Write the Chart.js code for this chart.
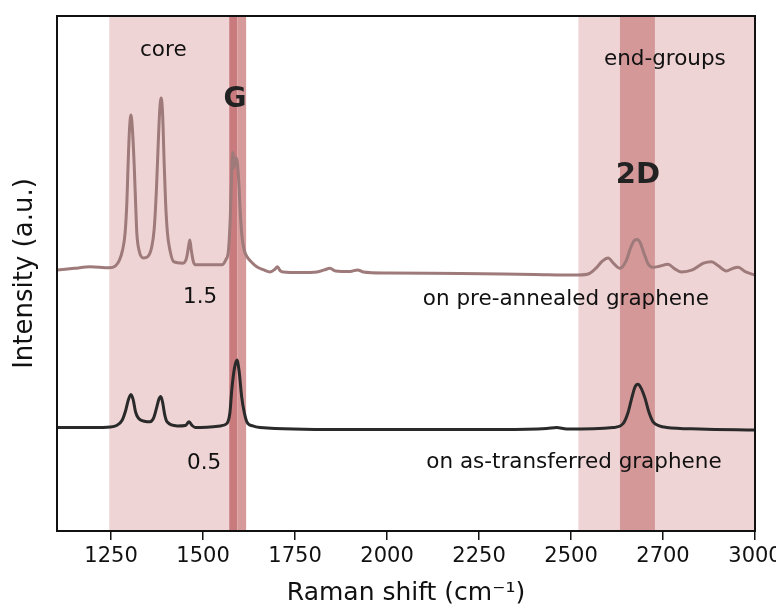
<!DOCTYPE html>
<html>
<head>
<meta charset="utf-8">
<script src="https://cdn.jsdelivr.net/npm/chart.js@4/dist/chart.umd.min.js"></script>
<style>
  html, body { margin: 0; padding: 0; background: #fff; overflow: hidden; }
  #wrap { width: 776px; height: 608px; }
</style>
</head>
<body>
<div id="wrap"><canvas id="raman"></canvas></div>
<script>
// x axis ticks (the 2750 tick is labelled 2700 in the original)
const xTicks = [1250, 1500, 1750, 2000, 2250, 2500, 2750, 3000];
const tickLabels = ["1250", "1500", "1750", "2000", "2250", "2500", "2700", "3000"];

// shaded bands [from, to] in cm-1
const coreBand = [1245, 1571];
const gBandDark = [1571, 1593];
const gBandLight = [1593, 1617];
const endGroupsBand = [2520, 3000];
const band2D = [2633, 2728];

// spectrum on pre-annealed graphene
const preShift = [1103, 1150, 1193, 1245, 1262, 1272, 1281, 1288, 1293, 1296, 1300, 1304, 1308, 1313, 1317, 1320, 1326, 1338,
  1350, 1360, 1367, 1373, 1378, 1382, 1386, 1390, 1394, 1398, 1403, 1410, 1420, 1445, 1455, 1460, 1464, 1468, 1474, 1479,
  1551, 1562, 1569, 1574, 1578, 1581, 1584, 1588, 1592, 1597, 1601, 1606, 1612, 1619, 1632, 1646, 1665, 1682,
  1695, 1702, 1710, 1718, 1764, 1810, 1830, 1845, 1860, 1900, 1920, 1935, 2000, 2200, 2400, 2520, 2550, 2570,
  2585, 2601, 2615, 2633, 2650, 2662, 2672, 2680, 2688, 2698, 2710, 2723, 2740, 2764, 2780, 2800, 2830, 2860,
  2882, 2900, 2922, 2940, 2954, 2975, 3000];
const preIntensity = [5.07, 5.10, 5.13, 5.11, 5.15, 5.25, 5.45, 5.78, 6.4, 7.07, 7.8, 8.08, 7.8, 7.07, 6.3, 5.78, 5.45, 5.30,
  5.33, 5.5, 5.85, 6.6, 7.5, 8.15, 8.41, 8.1, 7.2, 6.4, 5.8, 5.45, 5.23, 5.2, 5.3, 5.5, 5.65, 5.45, 5.22, 5.17,
  5.17, 5.27, 5.45, 6.1, 7.0, 7.35, 7.05, 7.25, 7.2, 6.8, 6.2, 5.7, 5.45, 5.33, 5.22, 5.13, 5.07, 5.03,
  5.08, 5.13, 5.05, 5.03, 5.02, 5.03, 5.07, 5.1, 5.05, 5.04, 5.07, 5.03, 5.01, 5.0, 4.98, 4.97, 5.0, 5.12,
  5.24, 5.30, 5.2, 5.10, 5.25, 5.5, 5.64, 5.66, 5.6, 5.4, 5.18, 5.12, 5.14, 5.18, 5.1, 5.03, 5.07, 5.2,
  5.23, 5.15, 5.05, 5.1, 5.12, 5.03, 4.97];

// spectrum on as-transferred graphene
const asShift = [1103, 1200, 1248, 1265, 1280, 1290, 1297, 1304, 1310, 1317, 1329, 1356, 1366, 1374, 1380, 1385,
  1390, 1396, 1402, 1430, 1452, 1462, 1470, 1479, 1547, 1565, 1573, 1578, 1585, 1592, 1598, 1605, 1612, 1619,
  1635, 1655, 1872, 2307, 2434, 2461, 2488, 2615, 2642, 2655, 2665, 2674, 2682, 2690, 2701, 2712, 2723, 2740,
  2760, 2850, 3000];
const asIntensity = [2.01, 2.01, 2.02, 2.05, 2.15, 2.35, 2.55, 2.65, 2.55, 2.3, 2.16, 2.12, 2.2, 2.4, 2.56, 2.61,
  2.5, 2.25, 2.12, 2.04, 2.05, 2.12, 2.05, 2.01, 2.04, 2.09, 2.3, 2.74, 3.15, 3.32, 3.1, 2.6, 2.3, 2.12,
  2.04, 2.01, 1.97, 1.97, 1.99, 2.01, 1.98, 2.01, 2.09, 2.3, 2.58, 2.8, 2.85, 2.78, 2.58, 2.3, 2.12, 2.04,
  2.01, 1.98, 1.96];

const font = "'DejaVu Sans', Verdana, sans-serif";

function toPoints(xs, ys) {
  return xs.map((x, i) => ({ x: x, y: ys[i] }));
}

// shaded regions behind the curves
const bands = {
  id: "bands",
  beforeDatasetsDraw(chart) {
    const { ctx, chartArea, scales } = chart;
    const fill = (range, color) => {
      const x0 = scales.x.getPixelForValue(range[0]);
      const x1 = scales.x.getPixelForValue(range[1]);
      ctx.fillStyle = color;
      ctx.fillRect(x0, chartArea.top, x1 - x0, chartArea.bottom - chartArea.top);
    };
    ctx.save();
    fill(coreBand, "#efd4d5");
    fill(endGroupsBand, "#efd4d5");
    fill(gBandDark, "#c97a7c");
    fill(gBandLight, "#d69a9b");
    fill(band2D, "#d49899");
    ctx.restore();
  },
};

// frame and text annotations
const notes = [
  { text: "core", x: 1392, y: 9.34, bold: false, size: 21.5 },
  { text: "end-groups", x: 2755, y: 9.15, bold: false, size: 21.5 },
  { text: "G", x: 1587, y: 8.37, bold: true, size: 28 },
  { text: "2D", x: 2682, y: 6.91, bold: true, size: 29 },
  { text: "1.5", x: 1492, y: 4.54, bold: false, size: 21.5 },
  { text: "on pre-annealed graphene", x: 2486, y: 4.49, bold: false, size: 21.5 },
  { text: "0.5", x: 1503, y: 1.32, bold: false, size: 21.5 },
  { text: "on as-transferred graphene", x: 2508, y: 1.34, bold: false, size: 21.5 },
];

const overlay = {
  id: "overlay",
  afterDraw(chart) {
    const { ctx, chartArea, scales } = chart;
    ctx.save();
    ctx.textAlign = "center";
    ctx.textBaseline = "middle";
    notes.forEach((n) => {
      ctx.font = (n.bold ? "bold " : "") + n.size + "px " + font;
      ctx.fillStyle = n.bold ? "#222" : "#111";
      ctx.fillText(n.text, scales.x.getPixelForValue(n.x), scales.y.getPixelForValue(n.y));
    });
    ctx.strokeStyle = "#111";
    ctx.lineWidth = 2;
    ctx.strokeRect(chartArea.left, chartArea.top, chartArea.right - chartArea.left, chartArea.bottom - chartArea.top);
    ctx.restore();
  },
};

const config = {
  type: "line",
  data: {
    datasets: [
      {
        label: "on pre-annealed graphene",
        data: toPoints(preShift, preIntensity),
        borderColor: "#9e7a7a",
        borderWidth: 3,
        pointRadius: 0,
        cubicInterpolationMode: "monotone",
      },
      {
        label: "on as-transferred graphene",
        data: toPoints(asShift, asIntensity),
        borderColor: "#2a2a2a",
        borderWidth: 3,
        pointRadius: 0,
        cubicInterpolationMode: "monotone",
      },
    ],
  },
  options: {
    responsive: true,
    maintainAspectRatio: false,
    animation: false,
    layout: { padding: { top: 16, right: 21, bottom: 0, left: 0 } },
    plugins: {
      legend: { display: false },
      tooltip: { enabled: false },
    },
    scales: {
      x: {
        type: "linear",
        min: 1103,
        max: 3000,
        afterBuildTicks: (scale) => {
          scale.ticks = xTicks.map((v) => ({ value: v }));
        },
        afterFit: (scale) => {
          scale.height = 77;
          // let the last label run into the margin like the original
          scale.paddingLeft = 0;
          scale.paddingRight = 0;
        },
        ticks: {
          autoSkip: false,
          maxRotation: 0,
          padding: 4,
          color: "#111",
          font: { family: font, size: 21 },
          callback: (value, index) => tickLabels[index],
        },
        grid: {
          drawOnChartArea: false,
          drawTicks: true,
          tickLength: 9,
          color: "#111",
          lineWidth: 1.5,
        },
        border: { display: false },
        title: {
          display: true,
          text: "Raman shift (cm\u207B\u00B9)",
          color: "#111",
          font: { family: font, size: 25 },
          padding: { top: 0, bottom: 0 },
        },
      },
      y: {
        min: 0,
        max: 10,
        afterFit: (scale) => {
          scale.width = 57;
        },
        ticks: { display: false },
        grid: { display: false },
        border: { display: false },
        title: {
          display: true,
          text: "Intensity (a.u.)",
          color: "#111",
          font: { family: font, size: 26 },
          padding: { top: 10, bottom: 0 },
        },
      },
    },
  },
  plugins: [bands, overlay],
};

new Chart(document.getElementById("raman"), config);
</script>
</body>
</html>
